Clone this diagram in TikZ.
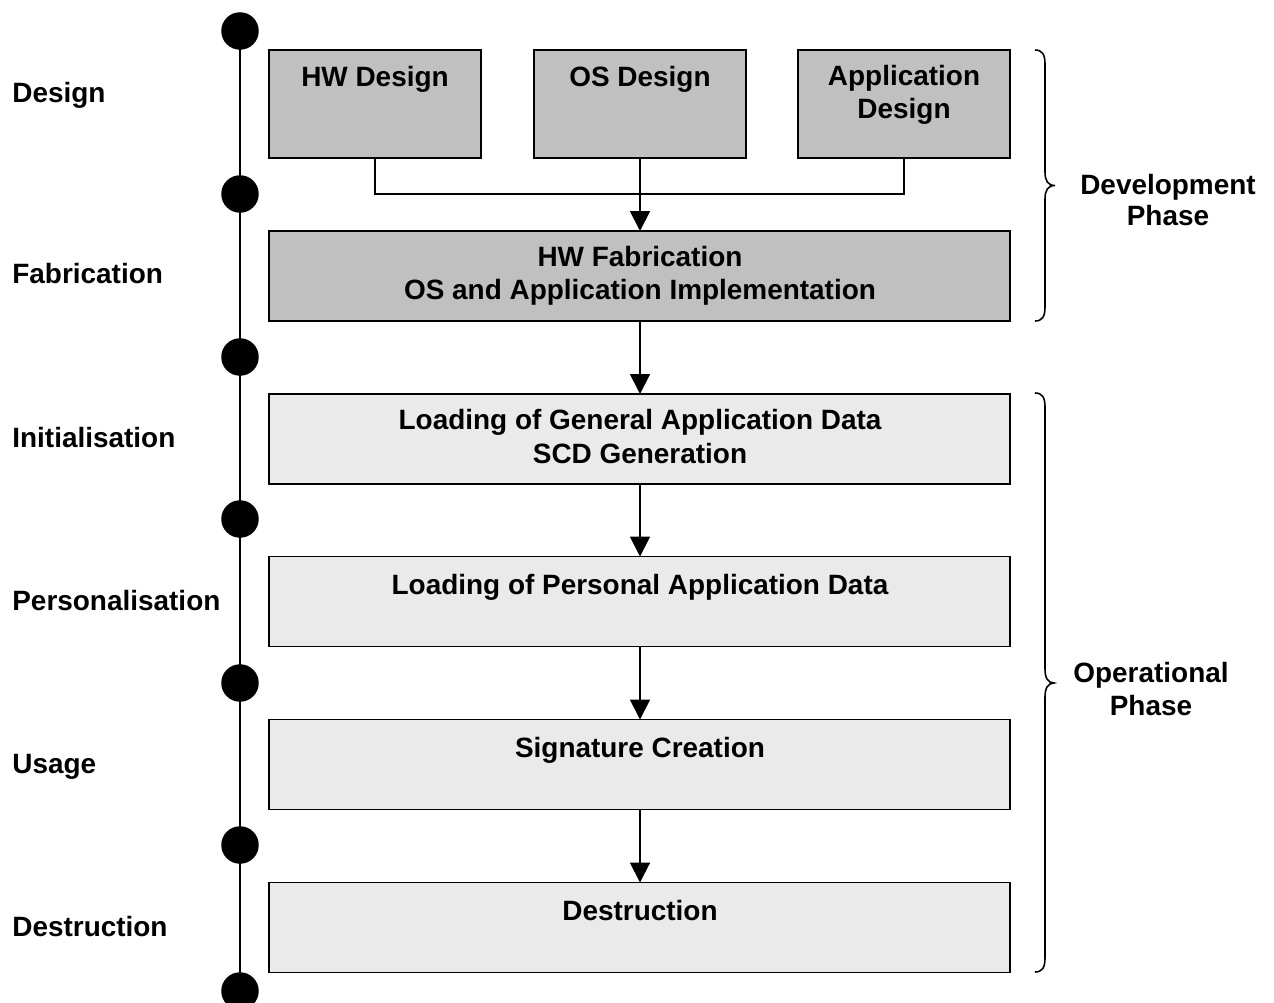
\documentclass[tikz,border=0pt]{standalone}
\usepackage{fontspec}
\setmainfont{Liberation Sans}
\usetikzlibrary{arrows.meta}
\definecolor{boxdark}{RGB}{192,192,192}
\definecolor{boxlight}{RGB}{234,234,234}
\begin{document}
\begin{tikzpicture}[x=0.02cm,y=-0.02cm,
  lbl/.style={font=\fontsize{15.9pt}{19.3pt}\selectfont\bfseries, inner sep=0pt, align=center},
  sidelbl/.style={lbl, anchor=base west},
  boxtxt/.style={lbl, anchor=base},
  smallbox/.style={draw, line width=1.1pt, inner sep=0pt, outer sep=0pt, minimum width=4.24cm, minimum height=2.16cm},
  widebox/.style={draw, line width=1.1pt, inner sep=0pt, outer sep=0pt, minimum width=14.82cm, minimum height=1.8cm},
  darkbox/.style={fill=boxdark},
  lightbox/.style={fill=boxlight},
  dot/.style={circle, fill=black, inner sep=0pt, minimum size=0.75cm},
  conn/.style={line width=1.1pt},
  arr/.style={conn, -{Triangle[width=11.3pt,length=11.3pt]}},
  bracepath/.style={line width=0.9pt}]
\useasboundingbox (0,0) rectangle (1274,1003);
% timeline
\node[dot] (d1) at (240,31) {};
\node[dot] (d2) at (240,194) {};
\node[dot] (d3) at (240,357) {};
\node[dot] (d4) at (240,519) {};
\node[dot] (d5) at (240,683) {};
\node[dot] (d6) at (240,845) {};
\node[dot] (d7) at (240,991) {};
\draw[conn] (d1.center) -- (d7.center);
% side labels
\node[sidelbl] (lDesign) at (12,103) {Design};
\node[sidelbl] (lFab) at (12,284) {Fabrication};
\node[sidelbl] (lInit) at (12,447) {Initialisation};
\node[sidelbl] (lPers) at (12,610) {Personalisation};
\node[sidelbl] (lUsage) at (12,773) {Usage};
\node[sidelbl] (lDest) at (12,936) {Destruction};
% boxes
\node[smallbox, darkbox] (hw) at (375,104) {};
\node[smallbox, darkbox] (os) at (640,104) {};
\node[smallbox, darkbox] (app) at (904,104) {};
\node[widebox, darkbox] (fab) at (639.5,276) {};
\node[widebox, lightbox] (gen) at (639.5,439) {};
\node[widebox, lightbox] (pers) at (639.5,601.5) {};
\node[widebox, lightbox] (sig) at (639.5,764.5) {};
\node[widebox, lightbox] (dest) at (639.5,927.5) {};
% box texts (base anchor = last line's baseline)
\node[boxtxt] (thw) at (375,87) {HW Design};
\node[boxtxt] (tos) at (640,87) {OS Design};
\node[boxtxt, font=\fontsize{15.9pt}{18.8pt}\selectfont\bfseries] (tapp) at (904,119) {Application\\Design};
\node[boxtxt] (tfab) at (640,300) {HW Fabrication\\OS and Application Implementation};
\node[boxtxt] (tgen) at (640,463) {Loading of General Application Data\\SCD Generation};
\node[boxtxt] (tpers) at (640,594) {Loading of Personal Application Data};
\node[boxtxt] (tsig) at (640,757) {Signature Creation};
\node[boxtxt] (tdest) at (640,920) {Destruction};
% connectors
\coordinate (jn) at (640,194);
\draw[conn] (hw.south) |- (jn) -| (app.south);
\draw[arr] (os.south) -- (fab.north -| os.south);
\draw[arr] (fab.south -| os.south) -- (gen.north -| os.south);
\draw[arr] (gen.south -| os.south) -- (pers.north -| os.south);
\draw[arr] (pers.south -| os.south) -- (sig.north -| os.south);
\draw[arr] (sig.south -| os.south) -- (dest.north -| os.south);
% braces
\draw[bracepath] (1035,50) .. controls (1042,50) and (1045,54) .. (1045,64)
  -- (1045,172) .. controls (1045,181) and (1048,185.5) .. (1055,185.5)
  .. controls (1048,185.5) and (1045,190) .. (1045,199)
  -- (1045,307) .. controls (1045,317) and (1042,321) .. (1035,321);
\draw[bracepath] (1035,393) .. controls (1042,393) and (1045,397) .. (1045,407)
  -- (1045,669) .. controls (1045,678) and (1048,683) .. (1054,683)
  .. controls (1048,683) and (1045,688) .. (1045,697)
  -- (1045,958) .. controls (1045,968) and (1042,972) .. (1035,972);
\node[lbl, font=\fontsize{15.9pt}{18.2pt}\selectfont\bfseries, anchor=base] (pdev) at (1168,226) {Development\\Phase};
\node[lbl, font=\fontsize{15.9pt}{18.7pt}\selectfont\bfseries, anchor=base] (pop) at (1151,715) {Operational\\Phase};
\end{tikzpicture}
\end{document}
